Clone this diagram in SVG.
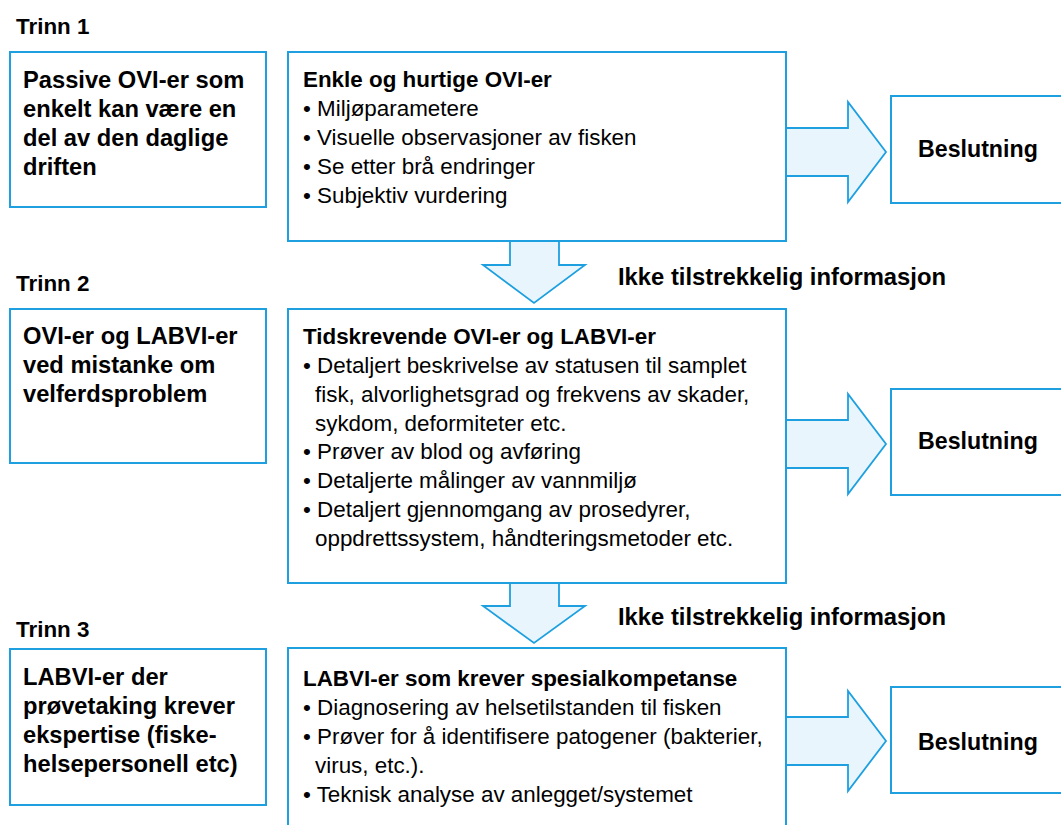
<svg xmlns="http://www.w3.org/2000/svg" width="1061" height="825" viewBox="0 0 1061 825">
<style>
.box{fill:#fff;stroke:#1ea0e0;stroke-width:2}
.arr{fill:#e8f5fd;stroke:#1ea0e0;stroke-width:1.8;stroke-linejoin:miter}
text{font-family:"Liberation Sans",Arial,Helvetica,sans-serif;fill:#000}
.h{font-weight:bold;font-size:22.4px}
.t{font-weight:bold;font-size:22.4px}
.l{font-weight:bold;font-size:23.7px}
.b{font-size:22.4px}
.d{font-weight:bold;font-size:23.2px}
.k{font-weight:bold;font-size:23.8px}
</style>
<rect width="1061" height="825" fill="#fff"/>
<g id="labels">
<text class="t" x="16" y="34">Trinn 1</text>
<text class="t" x="16" y="291">Trinn 2</text>
<text class="t" x="16" y="637">Trinn 3</text>
</g>
<g id="connectors">
<polygon class="arr" points="786,128 848,128 848,102 886,152 848,202 848,176 786,176"/>
<polygon class="arr" points="786,420 848,420 848,394 886,444 848,494 848,468 786,468"/>
<polygon class="arr" points="786,717 848,717 848,691 886,741 848,791 848,765 786,765"/>
<polygon class="arr" points="510,241 510,265 483,265 534,303 585,265 559,265 559,241"/>
<polygon class="arr" points="510,583 510,606 483,606 534,643 585,606 559,606 559,583"/>
<text class="k" x="618" y="285">Ikke tilstrekkelig informasjon</text>
<text class="k" x="618" y="625">Ikke tilstrekkelig informasjon</text>
</g>
<g id="left1">
<rect class="box" x="10" y="52" width="256" height="155"/>
<text class="l" x="23" y="88">Passive OVI-er som</text>
<text class="l" x="23" y="117">enkelt kan være en</text>
<text class="l" x="23" y="146">del av den daglige</text>
<text class="l" x="23" y="175">driften</text>
</g>
<g id="main1">
<rect class="box" x="288" y="52" width="498" height="189"/>
<text class="h" x="303" y="87">Enkle og hurtige OVI-er</text>
<text class="b" x="303" y="116">• Miljøparametere</text>
<text class="b" x="303" y="145">• Visuelle observasjoner av fisken</text>
<text class="b" x="303" y="174">• Se etter brå endringer</text>
<text class="b" x="303" y="203">• Subjektiv vurdering</text>
</g>
<g id="dec1">
<rect class="box" x="891" y="96" width="180" height="107"/>
<text class="d" x="918" y="157">Beslutning</text>
</g>
<g id="left2">
<rect class="box" x="10" y="309" width="256" height="154"/>
<text class="l" x="23" y="344">OVI-er og LABVI-er</text>
<text class="l" x="23" y="373">ved mistanke om</text>
<text class="l" x="23" y="402">velferdsproblem</text>
</g>
<g id="main2">
<rect class="box" x="288" y="309" width="498" height="274"/>
<text class="h" x="303" y="344">Tidskrevende OVI-er og LABVI-er</text>
<text class="b" x="303" y="373">• Detaljert beskrivelse av statusen til samplet</text>
<text class="b" x="315" y="402">fisk, alvorlighetsgrad og frekvens av skader,</text>
<text class="b" x="315" y="431">sykdom, deformiteter etc.</text>
<text class="b" x="303" y="459">• Prøver av blod og avføring</text>
<text class="b" x="303" y="488">• Detaljerte målinger av vannmiljø</text>
<text class="b" x="303" y="517">• Detaljert gjennomgang av prosedyrer,</text>
<text class="b" x="315" y="546">oppdrettssystem, håndteringsmetoder etc.</text>
</g>
<g id="dec2">
<rect class="box" x="891" y="389" width="180" height="106"/>
<text class="d" x="918" y="449">Beslutning</text>
</g>
<g id="left3">
<rect class="box" x="10" y="649" width="256" height="156"/>
<text class="l" x="23" y="685">LABVI-er der</text>
<text class="l" x="23" y="714">prøvetaking krever</text>
<text class="l" x="23" y="743">ekspertise (fiske-</text>
<text class="l" x="23" y="772">helsepersonell etc)</text>
</g>
<g id="main3">
<rect class="box" x="288" y="648" width="498" height="190"/>
<text class="h" x="303" y="686">LABVI-er som krever spesialkompetanse</text>
<text class="b" x="303" y="715">• Diagnosering av helsetilstanden til fisken</text>
<text class="b" x="303" y="744">• Prøver for å identifisere patogener (bakterier,</text>
<text class="b" x="315" y="773">virus, etc.).</text>
<text class="b" x="303" y="802">• Teknisk analyse av anlegget/systemet</text>
</g>
<g id="dec3">
<rect class="box" x="891" y="687" width="180" height="106"/>
<text class="d" x="918" y="750">Beslutning</text>
</g>
</svg>
